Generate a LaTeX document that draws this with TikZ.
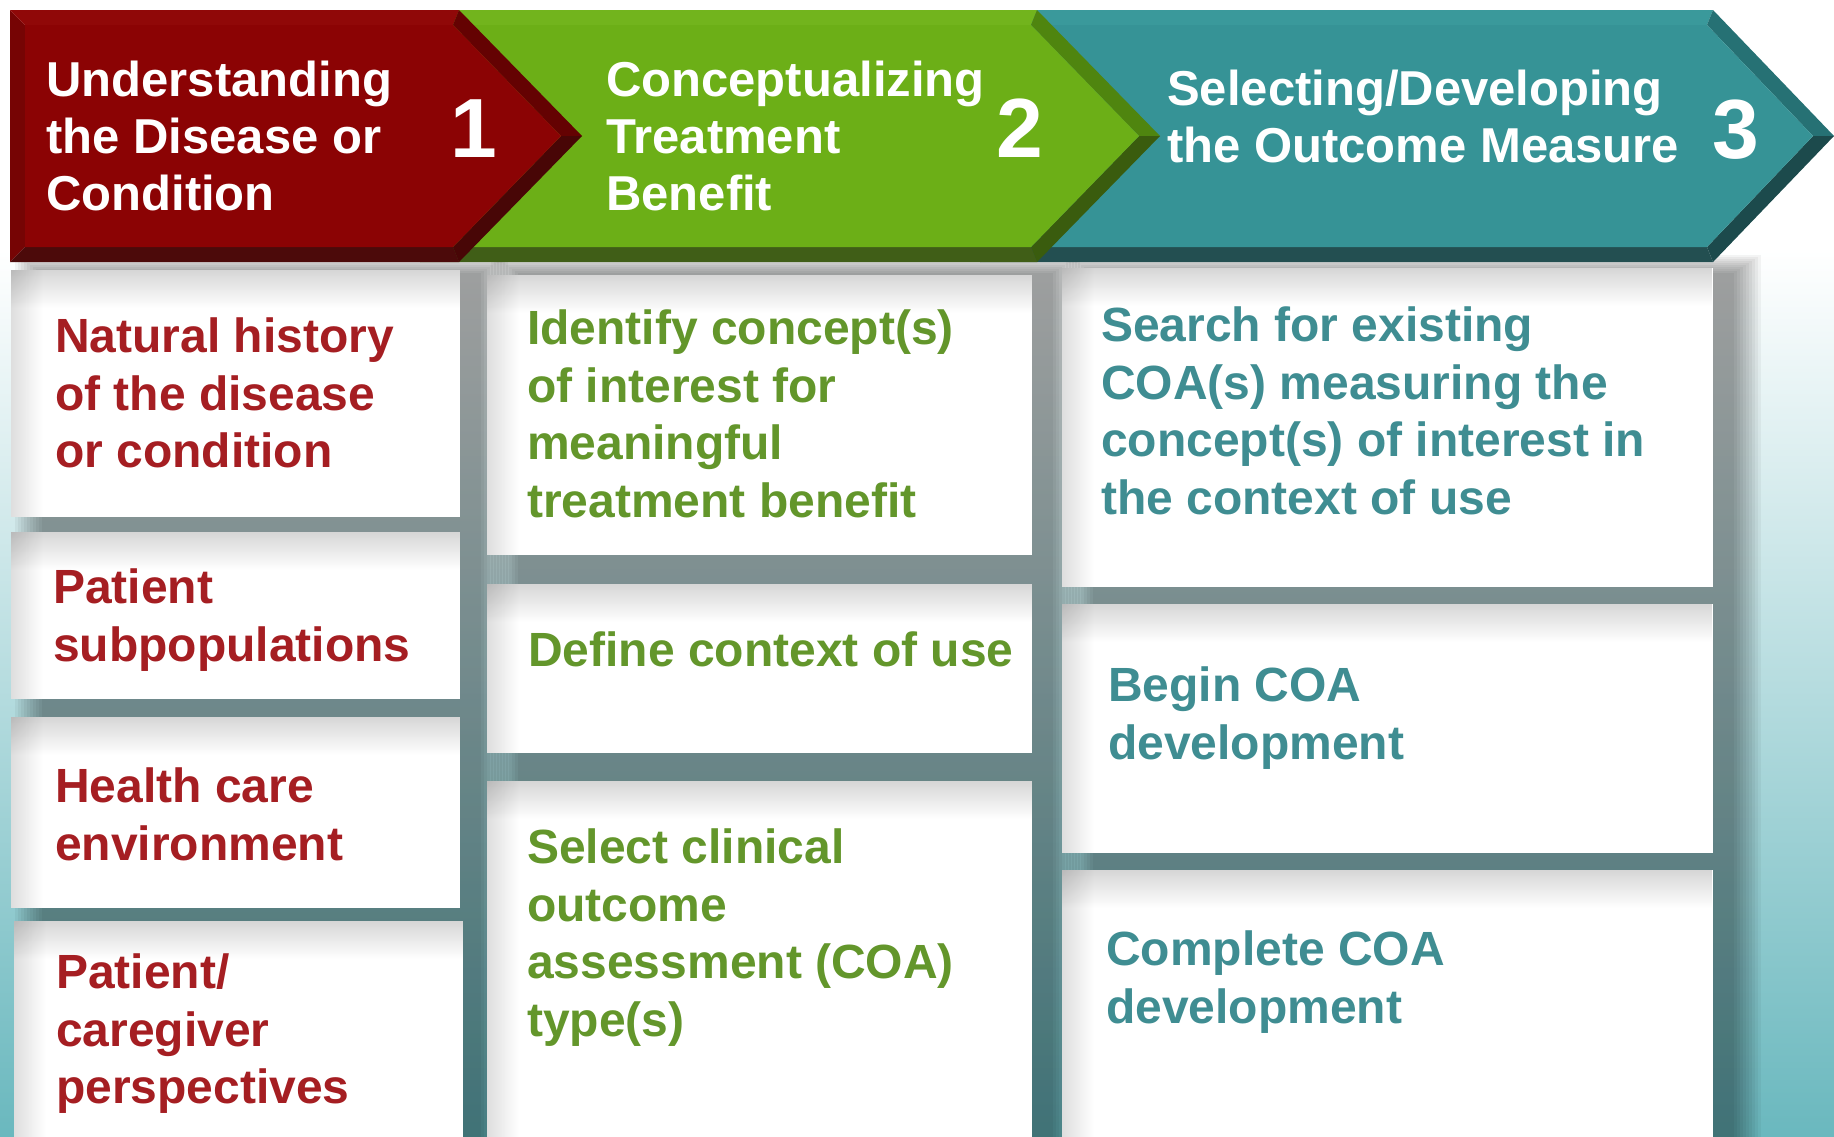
\documentclass[tikz,border=0pt]{standalone}
\usepackage{fontspec}
\setmainfont{Liberation Sans}
\usetikzlibrary{fadings}
\tikzfading[name=myfaderight, left color=transparent!0, right color=transparent!100]
\tikzfading[name=myfadedown, top color=transparent!0, bottom color=transparent!100]
\definecolor{bgteal}{HTML}{6AB8BE}
\definecolor{redface}{HTML}{8B0304}
\definecolor{redtop}{HTML}{900808}
\definecolor{redleft}{HTML}{760404}
\definecolor{redup}{HTML}{640202}
\definecolor{redlow}{HTML}{480606}
\definecolor{redbot}{HTML}{4C0A0A}
\definecolor{greenface}{HTML}{6CAF17}
\definecolor{greentop}{HTML}{72B41D}
\definecolor{greenleft}{HTML}{5E9A12}
\definecolor{greenup}{HTML}{4F850F}
\definecolor{greenlow}{HTML}{3A5C0E}
\definecolor{greenbot}{HTML}{405E17}
\definecolor{tealface}{HTML}{369396}
\definecolor{tealtop}{HTML}{3A999B}
\definecolor{tealleft}{HTML}{2F8486}
\definecolor{tealup}{HTML}{267174}
\definecolor{teallow}{HTML}{1C4A4C}
\definecolor{tealbot}{HTML}{234F51}
\definecolor{redtxt}{HTML}{A51E22}
\definecolor{greentxt}{HTML}{63962B}
\definecolor{tealtxt}{HTML}{3F8D92}
% chevron: #1 left x, #2 body right x, #3 tip x, #4 colour prefix
\newcommand{\mychevron}[4]{%
  \fill[#4left] (#1,10) -- ({#1+15},25) -- ({#1+15},247) -- (#1,262) -- cycle;
  \fill[#4top] (#1,10) -- (#2,10) -- ({#2-6},25) -- ({#1+15},25) -- cycle;
  \fill[#4up] (#2,10) -- (#3,136) -- ({#3-21},136) -- ({#2-6},25) -- cycle;
  \fill[#4low] (#3,136) -- (#2,262) -- ({#2-6},247) -- ({#3-21},136) -- cycle;
  \fill[#4bot] (#2,262) -- (#1,262) -- ({#1+15},247) -- ({#2-6},247) -- cycle;
  \fill[#4face] ({#1+15},25) -- ({#2-6},25) -- ({#3-21},136) -- ({#2-6},247) -- ({#1+15},247) -- cycle;
}
% soft shadow slab under a column: #1 left x, #2 right x
\newcommand{\myslab}[2]{%
  \foreach \k in {0,...,9}{
    \fill[black, opacity=0.042] ({#1+4+3*\k},{255+2*\k}) rectangle ({#2+48-3*\k},1150);
  }
}
% white box with inner shading: #1 x1, #2 y1, #3 x2, #4 y2
\newcommand{\mybox}[4]{%
  \fill[white] (#1,#2) rectangle (#3,#4);
  \fill[black, opacity=0.13, path fading=myfaderight] (#1,#2) rectangle ({#1+32},#4);
  \fill[black, opacity=0.16, path fading=myfadedown] (#1,#2) rectangle (#3,{#2+38});
}
\tikzset{
  boxtxt/.style={anchor=north west, inner sep=0pt, align=left,
    font=\bfseries\fontsize{48}{57.5}\selectfont},
  headtxt/.style={anchor=north west, inner sep=0pt, align=left, text=white,
    font=\bfseries\fontsize{49}{57}\selectfont},
  numtxt/.style={anchor=base, inner sep=0pt, text=white,
    font=\bfseries\fontsize{84}{84}\selectfont}
}
\begin{document}
\begin{tikzpicture}[x=1pt, y=-1pt]
\useasboundingbox (0,0) rectangle (1834,1136);
\clip (0,0) rectangle (1834,1136);
% background
\fill[white] (0,0) rectangle (1834,1136);
\shade[top color=white, bottom color=bgteal] (0,250) rectangle (1834,1136);
% column shadows
\myslab{11}{460}
\myslab{487}{1032}
\myslab{1062}{1713}
% boxes column 1
\mybox{11}{270}{460}{517}
\mybox{11}{532}{460}{699}
\mybox{11}{717}{460}{908}
\mybox{14}{921}{463}{1140}
% boxes column 2
\mybox{487}{275}{1032}{555}
\mybox{487}{584}{1032}{753}
\mybox{487}{781}{1032}{1140}
% boxes column 3
\mybox{1062}{268}{1713}{587}
\mybox{1062}{604}{1713}{853}
\mybox{1062}{870}{1713}{1140}
% chevrons (back to front)
\mychevron{980}{1713}{1834}{teal}
\mychevron{420}{1037}{1160}{green}
\mychevron{10}{459}{582}{red}
% header texts
\node[headtxt] (h1) at (46,60.5) {Understanding\\the Disease or\\Condition};
\node[headtxt] (h2) at (606,60.5) {Conceptualizing\\Treatment\\Benefit};
\node[headtxt] (h3) at (1167,69.5) {Selecting/Developing\\the Outcome Measure};
\node[numtxt] (n1) at (474,157) {1};
\node[numtxt] (n2) at (1020,157) {2};
\node[numtxt] (n3) at (1736,158) {3};
% column 1 texts
\node[boxtxt, text=redtxt] (a1) at (55,318) {Natural history\\of the disease\\or condition};
\node[boxtxt, text=redtxt] (a2) at (53,569) {Patient\\subpopulations};
\node[boxtxt, text=redtxt] (a3) at (55,768) {Health care\\environment};
\node[boxtxt, text=redtxt] (a4) at (56,954) {Patient/\\caregiver\\perspectives};
% column 2 texts
\node[boxtxt, text=greentxt] (b1) at (527,310) {Identify concept(s)\\of interest for\\meaningful\\treatment benefit};
\node[boxtxt, text=greentxt] (b2) at (528,632) {Define context of use};
\node[boxtxt, text=greentxt] (b3) at (527,829) {Select clinical\\outcome\\assessment (COA)\\type(s)};
% column 3 texts
\node[boxtxt, text=tealtxt] (c1) at (1101,307) {Search for existing\\COA(s) measuring the\\concept(s) of interest in\\the context of use};
\node[boxtxt, text=tealtxt] (c2) at (1108,667) {Begin COA\\development};
\node[boxtxt, text=tealtxt] (c3) at (1106,931) {Complete COA\\development};
\end{tikzpicture}
\end{document}
